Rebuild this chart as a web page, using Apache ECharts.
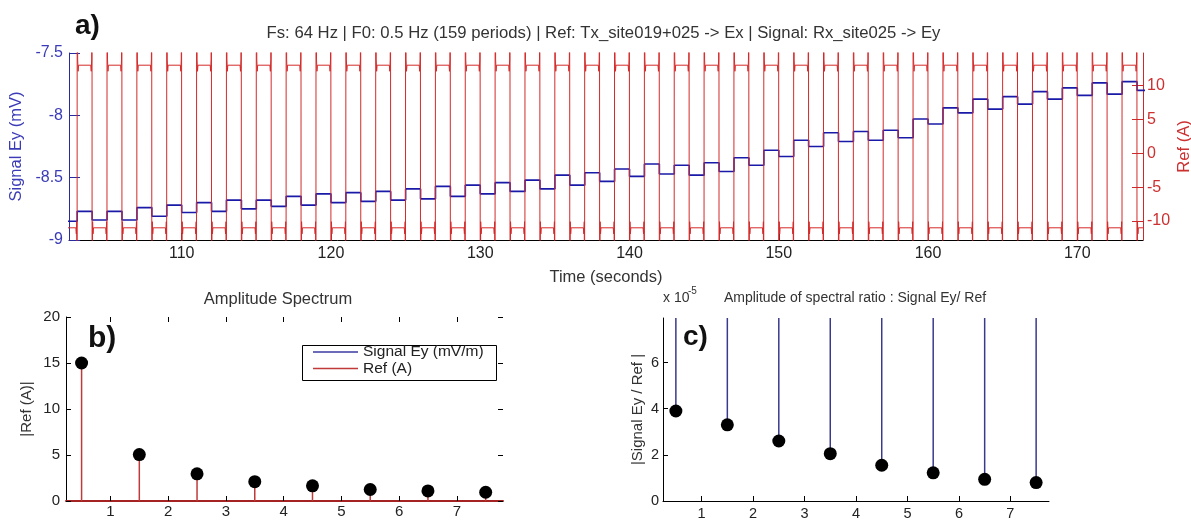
<!DOCTYPE html>
<html><head><meta charset="utf-8">
<script src="https://cdn.jsdelivr.net/npm/echarts@6/dist/echarts.min.js"></script>
<style>html,body{margin:0;padding:0;background:#fff}#chart{width:1191px;height:524px}</style>
</head><body><div id="chart"></div>
<script>
// ---------- Panel a: time series ----------
// start time (s) of each half period (square-wave segment)
const segmentStarts = [102,103,104,105,106,107,108,109,110,111,112,113,114,115,116,117,118,119,120,121,122,123,124,125,126,127,128,129,130,131,132,133,134,135,136,137,138,139,140,141,142,143,144,145,146,147,148,149,150,151,152,153,154,155,156,157,158,159,160,161,162,163,164,165,166,167,168,169,170,171,172,173,174];
const segmentEnd = 175;
// reference current level (A) in each segment
const refLevels = [-11,13,-11,13,-11,13,-11,13,-11,13,-11,13,-11,13,-11,13,-11,13,-11,13,-11,13,-11,13,-11,13,-11,13,-11,13,-11,13,-11,13,-11,13,-11,13,-11,13,-11,13,-11,13,-11,13,-11,13,-11,13,-11,13,-11,13,-11,13,-11,13,-11,13,-11,13,-11,13,-11,13,-11,13,-11,13,-11,13,-11];
// signal Ey level (mV) in each segment
const eyLevels = [-8.85,-8.77,-8.84,-8.77,-8.84,-8.74,-8.81,-8.72,-8.78,-8.70,-8.77,-8.68,-8.75,-8.68,-8.73,-8.65,-8.72,-8.63,-8.70,-8.62,-8.69,-8.61,-8.68,-8.59,-8.67,-8.57,-8.65,-8.56,-8.63,-8.54,-8.61,-8.52,-8.59,-8.48,-8.56,-8.46,-8.53,-8.43,-8.49,-8.39,-8.47,-8.40,-8.48,-8.38,-8.45,-8.34,-8.40,-8.28,-8.33,-8.20,-8.25,-8.14,-8.21,-8.13,-8.20,-8.12,-8.18,-8.03,-8.07,-7.94,-7.98,-7.87,-7.95,-7.85,-7.91,-7.81,-7.87,-7.78,-7.84,-7.74,-7.83,-7.73,-7.80];
// switching transient: overshoot (A, clipped by the axis) and ringing near each edge [dt (s), deviation (A)]
const refSpike = 40;
const refRinging = [[0.03, 0.9], [0.06, -0.9]];
const timeTicks = [110,120,130,140,150,160,170];
const refTicks = [-10,-5,0,5,10];

// ---------- Panels b and c: spectra ----------
const freqs = [0.5,1.5,2.5,3.5,4.5,5.5,6.5,7.5];
const refAmplitude = [15.0,5.05,2.95,2.1,1.65,1.25,1.1,0.95];
const ratioAmplitude = [3.9,3.3,2.6,2.05,1.55,1.22,0.94,0.8]; // x 1e-5
const freqTicks = [1,2,3,4,5,6,7];
const ratioTicks = [0,2,4,6];

const FONT = 'Liberation Sans, Arial, Helvetica, sans-serif';
const BLUE = '#1a1aa8', BLUE_TXT = '#3b3bb8', RED = '#d42a2a';

// build reference trace
const refData = [];
for (let i = 0; i < segmentStarts.length; i++) {
  const t0 = segmentStarts[i];
  const t1 = i + 1 < segmentStarts.length ? segmentStarts[i + 1] : segmentEnd;
  const L = refLevels[i];
  if (i > 0) {
    const first = L > refLevels[i - 1] ? -refSpike : refSpike;
    refData.push([t0 - 0.01, first], [t0, -first]);
  } else {
    refData.push([t0, L]);
  }
  refRinging.forEach(([dt, a]) => refData.push([t0 + dt, L + a]));
  refData.push([t0 + 0.09, L], [t1 - 0.09, L]);
  refRinging.slice().reverse().forEach(([dt, a]) => refData.push([t1 - dt, L + a]));
}
// signal trace (step per segment)
const eyData = segmentStarts.map((t, i) => [t, eyLevels[i]]);
eyData.push([segmentEnd, eyLevels[eyLevels.length - 1]]);

const RATIO_MAX = 7.93;
const refStem = [], ratioStem = [];
freqs.forEach((f, i) => {
  refStem.push([f, 0], [f, refAmplitude[i]], [f, null]);
  ratioStem.push([f, ratioAmplitude[i]], [f, RATIO_MAX], [f, null]);
});

const chart = echarts.init(document.getElementById('chart'), null, {renderer: 'canvas'});
const tickLbl = (size, color, margin, custom) => {
  const o = {fontSize: size, color: color, margin: margin, fontFamily: FONT};
  if (custom) o.customValues = custom;
  return o;
};
chart.setOption({
  animation: false,
  backgroundColor: '#fff',
  textStyle: {fontFamily: FONT},
  title: [
    {text: 'Fs: 64 Hz | F0: 0.5 Hz (159 periods) | Ref: Tx_site019+025 -> Ex | Signal: Rx_site025 -> Ey',
     left: 603.5, top: 25, textAlign: 'center', padding: 0,
     textStyle: {fontSize: 16.7, fontWeight: 'normal', color: '#333', fontFamily: FONT}},
    {text: 'Amplitude Spectrum', left: 278, top: 291, textAlign: 'center', padding: 0,
     textStyle: {fontSize: 16.5, fontWeight: 'normal', color: '#333', fontFamily: FONT}},
    {text: 'Amplitude of spectral ratio : Signal Ey/ Ref', left: 855, top: 291.5, textAlign: 'center', padding: 0,
     textStyle: {fontSize: 14, fontWeight: 'normal', color: '#333', fontFamily: FONT}}
  ],
  legend: {
    data: ['Signal Ey (mV/m)', 'Ref (A)'],
    orient: 'vertical', left: 313, top: 344, padding: 0, itemGap: 0.6,
    icon: 'rect', itemWidth: 45, itemHeight: 1.5, z: 6,
    selectedMode: false,
    textStyle: {fontSize: 15.5, color: '#222', lineHeight: 16, fontFamily: FONT}
  },
  graphic: [
    {type: 'rect', z: 5, shape: {x: 302.5, y: 345.5, width: 194, height: 35},
     style: {fill: '#fff', stroke: '#000', lineWidth: 1}},
    {type: 'text', x: 75, y: 26, z: 10, style: {text: 'a)', font: 'bold 28px ' + FONT, fill: '#111', verticalAlign: 'middle'}},
    {type: 'text', x: 88, y: 339, z: 10, style: {text: 'b)', font: 'bold 30px ' + FONT, fill: '#111', verticalAlign: 'middle'}},
    {type: 'text', x: 683, y: 337, z: 10, style: {text: 'c)', font: 'bold 28px ' + FONT, fill: '#111', verticalAlign: 'middle'}},
    {type: 'text', x: 663, y: 298, z: 10, style: {text: 'x 10', font: '14px ' + FONT, fill: '#333', verticalAlign: 'middle'}},
    {type: 'text', x: 688, y: 291, z: 10, style: {text: '-5', font: '10px ' + FONT, fill: '#333', verticalAlign: 'middle'}}
  ],
  grid: [
    {left: 69, top: 53, width: 1074, height: 187, containLabel: false, outerBoundsMode: 'none'},
    {left: 66, top: 317, width: 437, height: 184, containLabel: false, outerBoundsMode: 'none'},
    {left: 663, top: 318, width: 386, height: 183, containLabel: false, outerBoundsMode: 'none'}
  ],
  xAxis: [
    {type: 'value', gridIndex: 0, min: 102.45, max: 174.4,
     axisLine: {onZero: false, lineStyle: {color: '#000', width: 1}},
     axisTick: {inside: true, length: 7, customValues: timeTicks, lineStyle: {color: '#000'}},
     axisLabel: tickLbl(16, '#222', 6, timeTicks), splitLine: {show: false},
     name: 'Time (seconds)', nameLocation: 'middle', nameGap: 29,
     nameTextStyle: {fontSize: 16.5, color: '#333', fontFamily: FONT}},
    {type: 'value', gridIndex: 1, min: 0.23, max: 7.8,
     axisLine: {onZero: false, lineStyle: {color: '#a52222', width: 2}},
     axisTick: {inside: true, length: 5, customValues: freqTicks, lineStyle: {color: '#000'}},
     axisLabel: tickLbl(15, '#222', 3, freqTicks), splitLine: {show: false}},
    {type: 'value', gridIndex: 1, position: 'top', min: 0.23, max: 7.8,
     axisLine: {show: false, onZero: false},
     axisTick: {show: true, inside: true, length: 5, customValues: freqTicks, lineStyle: {color: '#000'}},
     axisLabel: {show: false}, splitLine: {show: false}},
    {type: 'value', gridIndex: 2, min: 0.25, max: 7.75,
     axisLine: {onZero: false, lineStyle: {color: '#000', width: 1}},
     axisTick: {inside: true, length: 5, customValues: freqTicks, lineStyle: {color: '#000'}},
     axisLabel: tickLbl(14.5, '#222', 5, freqTicks), splitLine: {show: false}}
  ],
  yAxis: [
    {type: 'value', gridIndex: 0, min: -9, max: -7.5, interval: 0.5,
     axisLine: {show: true, onZero: false, lineStyle: {color: '#2a2aa0', width: 1}},
     axisTick: {show: true, inside: true, length: 11, lineStyle: {color: '#2a2aa0'}},
     axisLabel: tickLbl(16, BLUE_TXT, 6), splitLine: {show: false},
     name: 'Signal Ey (mV)', nameLocation: 'middle', nameGap: 43, nameRotate: 90,
     nameTextStyle: {fontSize: 16.5, color: BLUE_TXT, fontFamily: FONT}},
    {type: 'value', gridIndex: 0, position: 'right', min: -12.8, max: 14.8,
     axisLine: {show: true, onZero: false, lineStyle: {color: '#cc2a2a', width: 1}},
     axisTick: {show: true, inside: true, length: 11, customValues: refTicks, lineStyle: {color: '#cc2a2a'}},
     axisLabel: tickLbl(16, '#cc3030', 4, refTicks), splitLine: {show: false},
     name: 'Ref (A)', nameLocation: 'middle', nameGap: 33, nameRotate: 90, nameMoveOverlap: false,
     nameTextStyle: {fontSize: 16.5, color: '#cc3030', fontFamily: FONT}},
    {type: 'value', gridIndex: 1, min: 0, max: 20, interval: 5,
     axisLine: {show: true, onZero: false, lineStyle: {color: '#000', width: 1}},
     axisTick: {show: true, inside: true, length: 5, lineStyle: {color: '#000'}},
     axisLabel: tickLbl(15, '#222', 6), splitLine: {show: false},
     name: '|Ref (A)|', nameLocation: 'middle', nameGap: 32, nameRotate: 90,
     nameTextStyle: {fontSize: 15, color: '#333', fontFamily: FONT}},
    {type: 'value', gridIndex: 1, position: 'right', min: 0, max: 20, interval: 5,
     axisLine: {show: false, onZero: false},
     axisTick: {show: true, inside: true, length: 5, lineStyle: {color: '#000'}},
     axisLabel: {show: false}, splitLine: {show: false}},
    {type: 'value', gridIndex: 2, min: 0, max: RATIO_MAX,
     axisLine: {show: true, onZero: false, lineStyle: {color: '#000', width: 1}},
     axisTick: {show: true, inside: true, length: 5, customValues: ratioTicks, lineStyle: {color: '#000'}},
     axisLabel: tickLbl(14.5, '#222', 4, ratioTicks), splitLine: {show: false},
     name: '|Signal Ey / Ref |', nameLocation: 'middle', nameGap: 18, nameRotate: 90,
     nameTextStyle: {fontSize: 15, color: '#333', fontFamily: FONT}}
  ],
  series: [
    {name: 'Signal Ey trace', type: 'line', xAxisIndex: 0, yAxisIndex: 0, data: eyData, step: 'end',
     symbol: 'none', color: BLUE, lineStyle: {color: BLUE, width: 1.6}, z: 2},
    {name: 'Ref trace', type: 'line', xAxisIndex: 0, yAxisIndex: 1, data: refData,
     symbol: 'none', color: RED, lineStyle: {color: RED, width: 1}, z: 3},
    {name: 'Ref (A)', type: 'line', xAxisIndex: 1, yAxisIndex: 2, data: refStem,
     symbol: 'none', color: '#c03a3a', lineStyle: {color: '#c03a3a', width: 1.5}, z: 2},
    {name: 'Signal Ey (mV/m)', type: 'line', xAxisIndex: 1, yAxisIndex: 2, data: [],
     symbol: 'none', color: '#3a3aa0', lineStyle: {color: '#3a3aa0', width: 1.5}},
    {name: 'Ref markers', type: 'scatter', xAxisIndex: 1, yAxisIndex: 2,
     data: freqs.map((f, i) => [f, refAmplitude[i]]), symbol: 'circle', symbolSize: 13,
     itemStyle: {color: '#000', opacity: 1}, z: 4},
    {name: 'Ratio stems', type: 'line', xAxisIndex: 3, yAxisIndex: 4, data: ratioStem,
     symbol: 'none', color: '#3a3a8c', lineStyle: {color: '#3a3a8c', width: 1.5}, z: 2},
    {name: 'Ratio markers', type: 'scatter', xAxisIndex: 3, yAxisIndex: 4,
     data: freqs.map((f, i) => [f, ratioAmplitude[i]]), symbol: 'circle', symbolSize: 13,
     itemStyle: {color: '#000', opacity: 1}, z: 4}
  ]
});
</script></body></html>
